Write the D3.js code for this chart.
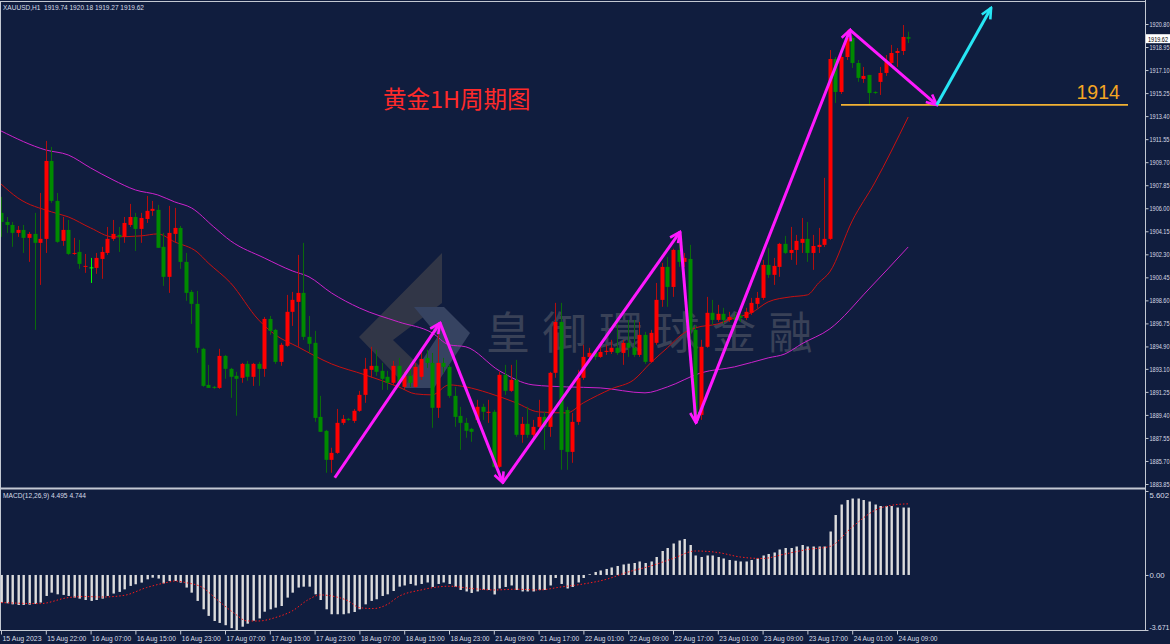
<!DOCTYPE html>
<html>
<head>
<meta charset="utf-8">
<title>XAUUSD H1</title>
<script src="https://d3js.org/d3.v7.min.js"></script>
<style>
  body { margin: 0; background: #101d3e; overflow: hidden; }
  svg { display: block; font-family: "Liberation Sans Narrow", "Liberation Sans", Arial, sans-serif; }
  .lbl { fill: #d7dce6; font-size: 7.8px; }
</style>
</head>
<body>
<div id="chart"></div>
<script>
// hourly candles, 15 Aug 14:00 .. 24 Aug 11:00
const opens = [1905.63,1904.90,1904.66,1904.02,1904.26,1903.62,1903.94,1903.22,1903.54,1909.80,
  1906.59,1903.38,1904.26,1902.33,1902.49,1901.29,1901.25,1901.21,1901.93,1902.41,
  1903.54,1903.86,1903.70,1904.66,1905.30,1904.34,1905.14,1905.79,1905.87,1902.90,
  1900.49,1903.94,1904.42,1901.69,1899.28,1898.32,1894.71,1891.81,1891.65,1891.57,
  1894.14,1893.10,1892.54,1892.38,1893.50,1892.46,1893.50,1893.10,1897.11,1896.23,
  1893.66,1894.95,1897.68,1898.48,1899.20,1895.67,1895.19,1889.24,1888.12,1885.79,
  1886.35,1888.76,1889.08,1888.92,1889.73,1891.01,1893.02,1893.34,1892.94,1892.46,
  1891.98,1893.34,1891.65,1892.54,1891.65,1892.46,1893.98,1893.58,1889.97,1893.58,
  1893.26,1890.93,1889.32,1888.76,1888.28,1889.00,1890.05,1889.57,1889.65,1885.23,
  1892.62,1891.33,1892.22,1887.80,1888.68,1887.80,1888.44,1889.24,1888.44,1892.78,
  1896.87,1889.80,1886.43,1888.84,1892.38,1894.06,1894.38,1894.06,1894.46,1894.46,
  1894.79,1894.38,1895.19,1894.79,1894.22,1895.83,1893.66,1895.19,1898.64,1901.29,
  1899.68,1902.65,1901.69,1901.93,1896.23,1889.40,1894.87,1897.60,1897.03,1897.52,
  1897.03,1897.27,1897.35,1897.19,1897.60,1898.32,1898.80,1901.45,1900.65,1901.29,
  1903.14,1902.41,1902.65,1903.22,1903.54,1902.41,1902.89,1903.06,1903.54,1917.99,
  1915.34,1918.15,1919.68,1917.67,1916.39,1916.71,1915.34,1916.15,1916.87,1917.67,
  1918.47,1918.63,1919.74];
const highs = [1906.91,1905.30,1904.90,1904.58,1904.66,1904.10,1905.63,1907.23,1911.41,1910.93,
  1907.23,1905.30,1905.06,1903.62,1903.46,1902.33,1902.01,1902.41,1902.90,1904.50,
  1905.06,1904.50,1905.30,1906.35,1905.63,1905.63,1906.99,1906.59,1906.27,1904.02,
  1906.19,1906.03,1904.58,1902.41,1899.44,1899.36,1894.79,1893.42,1891.73,1894.71,
  1894.22,1893.18,1892.86,1893.58,1893.74,1893.58,1893.66,1897.27,1897.35,1896.31,
  1895.19,1899.04,1899.28,1902.25,1903.22,1897.35,1896.15,1890.93,1888.20,1886.76,
  1889.88,1889.40,1889.16,1889.88,1891.33,1893.98,1894.87,1894.63,1893.58,1892.94,
  1893.74,1893.98,1892.86,1893.02,1893.58,1894.63,1894.63,1894.38,1896.07,1893.98,
  1893.42,1891.65,1890.05,1889.16,1888.36,1890.61,1890.29,1890.61,1889.81,1892.86,
  1893.42,1893.42,1893.82,1889.24,1890.05,1889.00,1890.61,1889.65,1892.86,1898.40,
  1898.40,1890.05,1889.56,1893.02,1895.03,1894.79,1894.63,1895.03,1895.03,1895.43,
  1897.03,1895.43,1897.03,1897.03,1896.87,1896.07,1896.23,1900.00,1901.61,1902.09,
  1902.75,1903.30,1902.41,1903.06,1896.63,1895.43,1898.88,1898.64,1898.24,1898.00,
  1897.68,1897.60,1897.75,1898.00,1898.80,1899.28,1901.85,1902.82,1902.01,1903.22,
  1903.78,1904.50,1903.86,1905.22,1904.90,1903.86,1904.42,1908.44,1918.71,1918.15,
  1918.31,1920.32,1919.84,1917.91,1917.35,1916.71,1915.40,1917.35,1918.31,1919.12,
  1918.87,1920.72,1920.18];
const lows = [1903.70,1904.02,1902.90,1903.70,1902.41,1901.69,1896.23,1899.84,1902.41,1906.43,
  1903.22,1902.98,1902.25,1902.25,1901.13,1900.81,1900.00,1900.73,1900.33,1902.25,
  1903.38,1902.49,1903.22,1904.50,1902.57,1903.22,1904.82,1905.39,1902.82,1899.76,
  1899.20,1903.22,1901.13,1898.56,1896.71,1894.38,1891.65,1891.57,1891.49,1891.49,
  1892.30,1890.77,1889.33,1891.98,1892.14,1891.73,1891.73,1892.46,1895.83,1893.50,
  1893.34,1894.87,1896.55,1894.87,1895.43,1894.38,1888.84,1888.04,1884.75,1884.75,
  1886.27,1888.60,1888.92,1888.76,1889.65,1890.37,1892.38,1892.54,1891.41,1891.41,
  1891.81,1891.65,1891.49,1891.65,1891.57,1892.22,1893.18,1888.36,1889.16,1892.78,
  1890.77,1888.44,1886.59,1887.56,1887.24,1888.76,1889.00,1888.76,1885.15,1885.15,
  1891.01,1891.25,1887.64,1887.16,1887.56,1887.56,1888.20,1886.59,1887.64,1892.38,
  1885.00,1884.99,1885.55,1888.60,1892.22,1893.82,1893.82,1893.98,1894.22,1894.30,
  1894.22,1893.42,1894.06,1894.06,1894.06,1893.50,1893.58,1895.03,1898.08,1898.08,
  1898.88,1901.29,1901.29,1895.43,1888.76,1889.00,1894.79,1896.63,1896.87,1896.71,
  1896.87,1896.63,1896.87,1897.03,1897.44,1898.00,1898.64,1900.41,1899.84,1900.49,
  1902.33,1901.85,1901.45,1902.41,1901.69,1901.05,1902.41,1902.89,1903.46,1914.46,
  1915.18,1917.91,1917.27,1916.15,1916.07,1914.30,1915.18,1915.10,1916.63,1917.35,
  1917.35,1918.31,1919.27];
const closes = [1904.90,1904.66,1904.02,1904.26,1903.62,1903.94,1903.22,1903.54,1909.80,1906.59,
  1903.30,1904.26,1902.33,1902.41,1901.53,1901.37,1901.25,1902.01,1902.49,1903.54,
  1903.94,1903.70,1904.82,1905.30,1904.34,1905.22,1905.79,1905.95,1902.82,1900.49,
  1904.02,1904.42,1901.69,1899.20,1898.32,1894.79,1891.73,1891.57,1891.57,1894.14,
  1893.10,1892.46,1892.30,1893.50,1892.46,1893.50,1893.10,1897.11,1896.15,1893.66,
  1895.03,1897.68,1898.64,1899.20,1895.67,1895.11,1889.16,1888.04,1885.79,1886.35,
  1888.76,1889.08,1889.00,1889.73,1891.01,1893.10,1893.34,1892.86,1892.30,1891.98,
  1893.34,1891.98,1892.54,1891.98,1893.26,1893.90,1893.58,1889.97,1893.58,1893.26,
  1890.93,1889.24,1888.76,1888.12,1888.04,1890.05,1889.65,1889.65,1885.23,1892.62,
  1891.33,1892.22,1887.80,1888.68,1887.80,1888.44,1889.24,1888.44,1892.78,1896.87,
  1886.59,1886.43,1888.84,1892.38,1894.06,1894.38,1894.06,1894.46,1894.55,1894.79,
  1894.38,1895.19,1894.79,1894.22,1895.83,1893.66,1895.99,1898.64,1901.29,1899.68,
  1902.65,1901.69,1902.01,1896.23,1889.16,1894.87,1897.60,1897.03,1897.52,1897.03,
  1897.27,1897.03,1897.19,1897.68,1898.40,1898.80,1901.45,1900.65,1901.37,1903.14,
  1902.41,1902.65,1903.38,1903.54,1902.41,1902.97,1903.06,1903.54,1917.99,1915.34,
  1918.15,1919.68,1917.67,1916.47,1916.63,1915.26,1915.26,1916.87,1917.75,1918.47,
  1918.63,1919.76,1919.62];

// moving averages, read at bar index
const maFast = [[0,1907.95],[3,1906.83],[9,1905.71],[12,1905.31],[16,1904.42],[20,1903.70],[25,1903.78],
  [28,1903.94],[31,1903.30],[35,1902.49],[37,1901.61],[41,1900.00],[46,1897.03],[49,1895.83],[53,1894.87],
  [59,1893.50],[65,1892.62],[71,1891.65],[74,1891.09],[77,1891.01],[80,1891.81],[83,1891.65],[87,1891.17],
  [92,1890.37],[96,1889.64],[101,1889.56],[104,1890.37],[109,1891.49],[113,1892.22],[116,1893.58],
  [119,1894.79],[122,1895.99],[124,1896.39],[128,1896.71],[131,1897.19],[134,1897.60],[137,1898.48],
  [141,1898.88],[144,1899.04],[146,1900.00],[148,1900.89],[152,1904.98],[156,1908.03],[162,1913.33]];
const maSlow = [[0,1912.21],[8,1910.68],[12,1910.28],[16,1909.24],[20,1908.28],[24,1907.47],[28,1907.07],
  [31,1906.51],[34,1906.03],[38,1904.50],[41,1903.38],[47,1902.01],[52,1900.97],[55,1900.49],[59,1899.20],
  [64,1897.99],[71,1896.87],[77,1895.99],[80,1895.03],[83,1894.87],[89,1892.94],[95,1891.81],[101,1891.65],
  [107,1891.57],[115,1891.17],[119,1891.65],[125,1892.78],[131,1893.26],[137,1893.98],[140,1894.30],
  [143,1895.11],[148,1896.31],[155,1899.52],[162,1902.89]];

// MACD(12,26,9) main histogram and signal
const macdMain = [-1.84,-1.89,-1.96,-2.00,-2.00,-1.98,-1.93,-1.84,-1.40,-1.18,
  -1.29,-1.33,-1.40,-1.51,-1.58,-1.67,-1.73,-1.67,-1.58,-1.40,
  -1.24,-1.13,-0.96,-0.73,-0.62,-0.51,-0.29,-0.18,-0.24,-0.56,
  -0.40,-0.40,-0.51,-0.84,-1.18,-1.73,-2.29,-2.73,-3.07,-3.20,
  -3.35,-3.55,-3.67,-3.45,-3.25,-3.05,-2.90,-2.45,-2.29,-2.18,
  -2.07,-1.51,-1.18,-0.84,-0.78,-0.78,-1.29,-1.67,-2.29,-2.62,
  -2.62,-2.62,-2.56,-2.47,-2.29,-1.96,-1.73,-1.62,-1.40,-1.29,
  -1.07,-0.78,-0.70,-0.60,-0.70,-0.60,-0.50,-0.80,-0.60,-0.50,
  -0.60,-0.80,-1.00,-1.10,-1.20,-1.10,-1.00,-1.00,-1.30,-0.90,
  -0.80,-0.70,-1.00,-1.10,-1.10,-1.10,-1.00,-1.00,-0.70,-0.20,
  -0.60,-0.90,-0.80,-0.50,-0.20,0.05,0.20,0.30,0.40,0.50,
  0.60,0.70,0.75,0.80,0.90,0.80,0.90,1.20,1.60,1.80,
  2.10,2.30,2.40,2.00,1.30,1.20,1.30,1.30,1.20,1.10,
  1.00,0.95,0.90,0.90,1.00,1.10,1.30,1.40,1.50,1.70,
  1.80,1.80,1.90,2.00,1.90,1.90,1.90,1.90,2.90,4.00,
  4.70,5.00,5.10,5.10,5.00,4.90,4.70,4.60,4.60,4.60,
  4.50,4.50,4.495];
const macdSignal = [[0,-1.84],[7,-1.91],[12,-1.51],[15,-1.44],[18,-1.47],[22,-1.36],[26,-0.84],[30,-0.47],
  [31,-0.40],[33,-0.51],[36,-0.84],[38.5,-1.62],[41.5,-2.51],[44,-3.07],[46,-3.07],[49,-2.84],[52,-2.40],
  [55,-1.62],[57,-1.33],[59,-1.40],[62,-1.73],[64,-2.18],[66.5,-2.24],[69,-1.96],[71,-1.44],[75,-1.0],
  [78,-0.8],[80,-0.75],[84,-0.9],[88,-1.0],[92,-0.95],[96,-1.0],[100,-0.8],[104,-0.6],[108,-0.3],
  [112,0.2],[116,0.6],[120,1.1],[124,1.6],[128,1.5],[132,1.2],[136,1.1],[140,1.4],[144,1.7],[148,1.9],
  [152,3.2],[156,4.3],[160,4.7],[162,4.744]];

const priceTicks = [1920.80,1918.95,1917.10,1915.25,1913.40,1911.55,1909.70,1907.85,1906.00,1904.15,
  1902.30,1900.45,1898.60,1896.75,1894.90,1893.10,1891.25,1889.40,1887.55,1885.70,1883.85];
const timeIdx = [0,8,16,24,32,40,48,56,64,72,80,88,96,104,112,120,128,136,144,152,160];
const timeLabels = ['15 Aug 2023','15 Aug 22:00','16 Aug 07:00','16 Aug 15:00','16 Aug 23:00',
  '17 Aug 07:00','17 Aug 15:00','17 Aug 23:00','18 Aug 07:00','18 Aug 15:00','18 Aug 23:00',
  '21 Aug 09:00','21 Aug 17:00','22 Aug 01:00','22 Aug 09:00','22 Aug 17:00','23 Aug 01:00',
  '23 Aug 09:00','23 Aug 17:00','24 Aug 01:00','24 Aug 09:00'];

// hand-drawn wave path and target (bar index, price)
const wavePts = [[59.6,1884.35],[78.4,1896.79],[89.6,1883.95],[121.25,1904.10],[124.1,1888.76],[151.6,1920.32],[167.1,1914.3]];
const targetPts = [[167.1,1914.3],[176.8,1922.09]];
const level = 1914.3;
const levelSpan = [150, 201.25];

const width = 1170, height = 644;
const axisX = 1145;

const svg = d3.select('#chart').append('svg')
  .attr('width', width)
  .attr('height', height);

svg.append('rect').attr('width', width).attr('height', height).attr('fill', '#101d3e');

const x = d3.scaleLinear().domain([0, 162]).range([1, 908.2]);
const y = d3.scaleLinear().domain([1883.85, 1920.80]).range([484, 24]);
const ym = d3.scaleLinear().domain([-3.671, 5.602]).range([630, 491]);

// squeeze a label if the fallback font comes out wider than the original
function fitText(sel, maxW) {
  sel.each(function() {
    if (this.getComputedTextLength() > maxW) {
      d3.select(this).attr('textLength', maxW).attr('lengthAdjust', 'spacingAndGlyphs');
    }
  });
}

const defs = svg.append('defs');
defs.append('clipPath').attr('id', 'clipMain')
  .append('rect').attr('x', 0).attr('y', 2).attr('width', axisX).attr('height', 486);
defs.append('clipPath').attr('id', 'clipMacd')
  .append('rect').attr('x', 0).attr('y', 490).attr('width', axisX).attr('height', 140);

function arrowMarker(id, color) {
  defs.append('marker')
    .attr('id', id)
    .attr('viewBox', '0 0 12 12')
    .attr('refX', 10.5).attr('refY', 6)
    .attr('markerWidth', 13).attr('markerHeight', 13)
    .attr('markerUnits', 'userSpaceOnUse')
    .attr('orient', 'auto')
    .append('path')
    .attr('d', 'M1,1.5 L10.5,6 L1,10.5')
    .attr('fill', 'none')
    .attr('stroke', color)
    .attr('stroke-width', 2.4);
}
arrowMarker('arrMag', '#ff19ff');
arrowMarker('arrCyan', '#27e6f5');

const main = svg.append('g').attr('clip-path', 'url(#clipMain)');

// watermark
const wm = main.append('g').attr('opacity', 0.55);
wm.append('polygon')
  .attr('points', '442,253 442,303 393,340 426,372 408,388 359,337')
  .attr('fill', '#4d4b4f');
wm.append('polygon')
  .attr('points', '414,307 444,307 470,333 434,388 404,388 438,336')
  .attr('fill', '#56627e');
wm.append('text')
  .attr('x', 486).attr('y', 349)
  .attr('font-family', '"Noto Sans CJK TC", "Noto Sans CJK SC", sans-serif')
  .attr('font-size', 44)
  .attr('letter-spacing', 12.5)
  .attr('fill', '#5b5f6c')
  .text('皇御環球金融');

// moving averages
const maLine = d3.line().x(d => x(d[0])).y(d => y(d[1])).curve(d3.curveMonotoneX);
main.append('path').datum(maSlow).attr('d', maLine)
  .attr('fill', 'none').attr('stroke', '#cc22cc').attr('stroke-width', 1);
main.append('path').datum(maFast).attr('d', maLine)
  .attr('fill', 'none').attr('stroke', '#c81010').attr('stroke-width', 1);

// candles
const bars = d3.range(opens.length).map(i => ({i, o: opens[i], h: highs[i], l: lows[i], c: closes[i]}));
const bodyCol = d => d.c > d.o ? '#ff0000' : (d.c < d.o ? '#008a00' : '#00ff00');
const wickCol = d => d.c > d.o ? '#b40d0d' : (d.c < d.o ? '#0b6a0b' : '#00ff00');

const cg = main.append('g');
cg.selectAll('line.wick').data(bars).join('line')
  .attr('class', 'wick')
  .attr('x1', d => Math.round(x(d.i)) + 0.5).attr('x2', d => Math.round(x(d.i)) + 0.5)
  .attr('y1', d => y(d.h)).attr('y2', d => y(d.l))
  .attr('stroke', wickCol).attr('stroke-width', 1);
cg.selectAll('rect.body').data(bars).join('rect')
  .attr('class', 'body')
  .attr('x', d => Math.round(x(d.i)) - 1.5)
  .attr('width', 4)
  .attr('y', d => y(Math.max(d.o, d.c)))
  .attr('height', d => Math.max(1, Math.abs(y(d.o) - y(d.c))))
  .attr('fill', bodyCol);

// support level
main.append('line')
  .attr('x1', x(levelSpan[0])).attr('x2', x(levelSpan[1]))
  .attr('y1', y(level)).attr('y2', y(level))
  .attr('stroke', '#f2b233').attr('stroke-width', 1.6);
main.append('text')
  .attr('x', x(199.8)).attr('y', y(level) - 6)
  .attr('text-anchor', 'end')
  .attr('font-family', '"Liberation Sans", Arial, sans-serif')
  .attr('font-size', 19.5)
  .attr('fill', '#f5a623')
  .text('1914');

// wave arrows
const wave = main.append('g');
for (let k = 0; k < wavePts.length - 1; k++) {
  wave.append('line')
    .attr('x1', x(wavePts[k][0])).attr('y1', y(wavePts[k][1]))
    .attr('x2', x(wavePts[k + 1][0])).attr('y2', y(wavePts[k + 1][1]))
    .attr('stroke', '#ff19ff').attr('stroke-width', 3)
    .attr('marker-end', 'url(#arrMag)');
}
wave.append('line')
  .attr('x1', x(targetPts[0][0])).attr('y1', y(targetPts[0][1]))
  .attr('x2', x(targetPts[1][0])).attr('y2', y(targetPts[1][1]))
  .attr('stroke', '#27e6f5').attr('stroke-width', 3)
  .attr('marker-end', 'url(#arrCyan)');

// title
main.append('text')
  .attr('x', x(68.2)).attr('y', y(1914.06))
  .attr('font-family', '"Noto Sans CJK SC", sans-serif')
  .attr('font-size', 23.5)
  .attr('fill', '#ff2a2a')
  .text('黄金1H周期图');

// MACD panel
const mg = svg.append('g').attr('clip-path', 'url(#clipMacd)');
mg.selectAll('rect').data(macdMain).join('rect')
  .attr('x', (d, i) => Math.round(x(i)) - 0.5)
  .attr('width', 2.4)
  .attr('y', d => Math.min(ym(0), ym(d)))
  .attr('height', d => Math.abs(ym(d) - ym(0)))
  .attr('fill', '#dcdcdc');
mg.append('path').datum(macdSignal)
  .attr('d', d3.line().x(d => x(d[0])).y(d => ym(d[1])).curve(d3.curveMonotoneX))
  .attr('fill', 'none').attr('stroke', '#ff1a1a').attr('stroke-width', 1)
  .attr('stroke-dasharray', '1.5,2');

// frame
const frame = svg.append('g').attr('stroke', '#c3c8d2').attr('fill', 'none');
frame.append('line').attr('x1', 0).attr('x2', axisX).attr('y1', 1.5).attr('y2', 1.5);
frame.append('line').attr('x1', 0.5).attr('x2', 0.5).attr('y1', 1).attr('y2', 631);
frame.append('line').attr('x1', 0).attr('x2', axisX).attr('y1', 488.5).attr('y2', 488.5).attr('stroke-width', 2);
frame.append('line').attr('x1', 0).attr('x2', axisX).attr('y1', 630.5).attr('y2', 630.5);
frame.append('line').attr('x1', axisX + 0.5).attr('x2', axisX + 0.5).attr('y1', 0).attr('y2', 631);

// price axis
const yAxisG = svg.append('g').attr('transform', `translate(${axisX + 0.5},0)`)
  .call(d3.axisRight(y).tickValues(priceTicks).tickSize(3).tickPadding(1).tickFormat(d3.format('.2f')));
yAxisG.select('.domain').remove();
yAxisG.selectAll('line').attr('stroke', '#c3c8d2');
yAxisG.selectAll('text').attr('class', 'lbl').attr('font-size', null).attr('font-family', null).attr('fill', null)
  .call(fitText, 20);

// current price tag
const last = closes[closes.length - 1];
svg.append('rect')
  .attr('x', axisX + 1).attr('y', y(last) - 4.5)
  .attr('width', 24).attr('height', 9)
  .attr('fill', '#ffffff');
svg.append('text')
  .attr('x', axisX + 3).attr('y', y(last) + 3)
  .attr('font-size', 7.8).attr('fill', '#000')
  .text(d3.format('.2f')(last))
  .call(fitText, 20);

// MACD axis
const macdTicks = [5.602, 0, -3.671];
const macdFmt = ['5.602', '0.00', '-3.671'];
const macdShift = [4, 0, -3];
const mAxisG = svg.append('g').attr('transform', `translate(${axisX + 0.5},0)`)
  .call(d3.axisRight(ym).tickValues(macdTicks).tickSize(3).tickPadding(1).tickFormat((d, i) => macdFmt[i]));
mAxisG.select('.domain').remove();
mAxisG.selectAll('line').attr('stroke', '#c3c8d2');
mAxisG.selectAll('text').attr('class', 'lbl').attr('font-size', null).attr('font-family', null).attr('fill', null)
  .attr('transform', (d, i) => `translate(0,${macdShift[i]})`)
  .call(fitText, 20);

// time axis
const xAxisG = svg.append('g').attr('transform', 'translate(0,630.5)')
  .call(d3.axisBottom(x).tickValues(timeIdx).tickSize(4).tickPadding(2).tickFormat((d, i) => timeLabels[i]));
xAxisG.select('.domain').remove();
xAxisG.selectAll('line').attr('stroke', '#c3c8d2');
xAxisG.selectAll('text').attr('class', 'lbl').attr('font-size', null).attr('font-family', null).attr('fill', null)
  .attr('text-anchor', 'start').attr('dx', 1).attr('dy', '0.55em')
  .call(fitText, 39);

// headers
svg.append('text').attr('class', 'lbl').attr('x', 3).attr('y', 10)
  .style('white-space', 'pre')
  .text('XAUUSD,H1  1919.74 1920.18 1919.27 1919.62')
  .call(fitText, 141);
svg.append('text').attr('class', 'lbl').attr('x', 3).attr('y', 498)
  .text('MACD(12,26,9) 4.495 4.744')
  .call(fitText, 83);
</script>
</body>
</html>
